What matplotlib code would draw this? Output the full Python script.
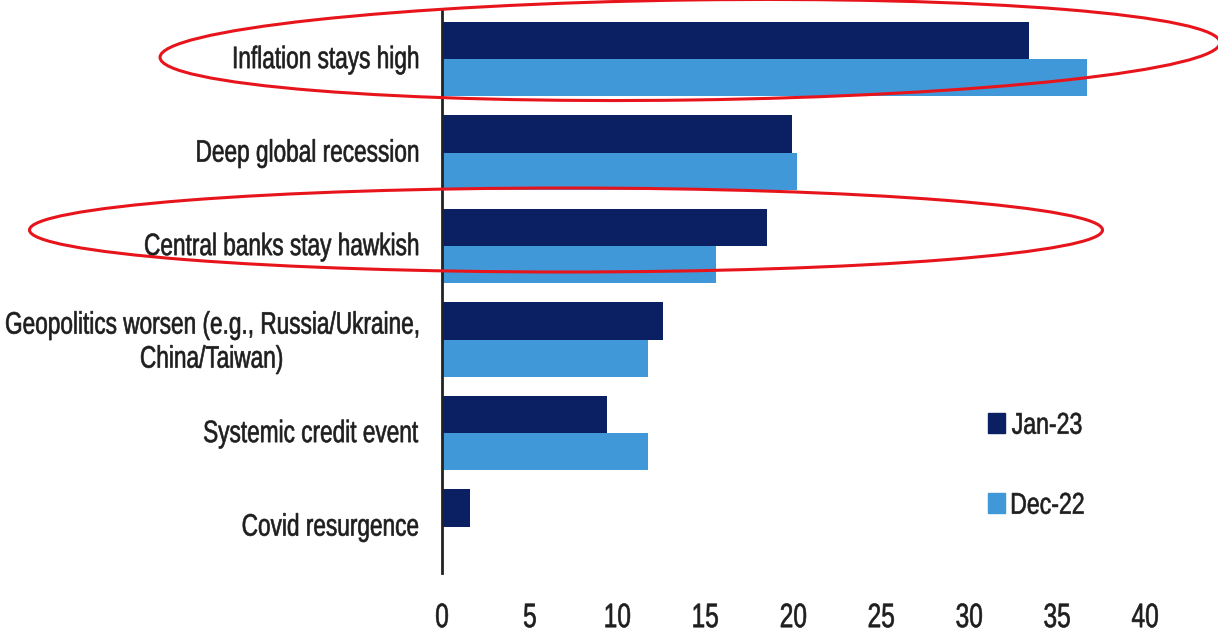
import matplotlib
matplotlib.use('Agg')
import matplotlib.pyplot as plt
from matplotlib.patches import Ellipse, Rectangle, PathPatch
from matplotlib.textpath import TextPath
from matplotlib.font_manager import FontProperties
from matplotlib.transforms import Affine2D
import numpy as np

# survey: biggest tail risk, % of respondents
risks = ['Inflation stays high',
         'Deep global recession',
         'Central banks stay hawkish',
         'Geopolitics worsen (e.g., Russia/Ukraine,\nChina/Taiwan)',
         'Systemic credit event',
         'Covid resurgence']
jan23 = [33.4, 19.9, 18.5, 12.6, 9.4, 1.6]
dec22 = [36.7, 20.2, 15.6, 11.7, 11.7, 0.0]
series_names = ['Jan-23', 'Dec-22']
xticks = list(range(0, 45, 5))

navy = '#0b1f63'
sky = '#4098d8'
ink = '#1e1e1e'
prop = FontProperties(family='Liberation Sans')


def narrow_text(fig, s, x, y, em, sx=0.73, ha='right'):
    # glyphs squeezed horizontally, x/y in display pixels, y = cap middle
    tp = TextPath((0, 0), s, size=em, prop=prop)
    ext = tp.get_extents()
    if ha == 'right':
        x0 = x - ext.x1 * sx
    elif ha == 'center':
        x0 = x - (ext.x0 + ext.x1) / 2 * sx
    else:
        x0 = x - ext.x0 * sx
    tr = Affine2D().scale(sx, 1).translate(x0, y - em * 0.716 / 2)
    fig.add_artist(PathPatch(tp, transform=tr, facecolor=ink,
                             edgecolor=ink, linewidth=0.45, clip_on=False))


fig = plt.figure(figsize=(12.18, 6.33), dpi=100)
ax = fig.add_axes([0.3629, 0.0948, 0.5771, 0.8894])

y = np.arange(len(risks))
h = 0.40
ax.barh(y - h/2, jan23, h, color=navy)
ax.barh(y + h/2, dec22, h, color=sky)

ax.set_xlim(0, 40)
ax.set_ylim(5.497, -0.524)
ax.set_xticks(xticks)
ax.set_yticks(y)
ax.set_xticklabels([])
ax.set_yticklabels([])
ax.tick_params(length=0)
for s in ['top', 'right', 'bottom']:
    ax.spines[s].set_visible(False)
ax.spines['left'].set_color('#222222')
ax.spines['left'].set_linewidth(2)

# category labels, right aligned a little left of the axis
for yi, lab in zip(y, risks):
    x_ax, y_mid = ax.transData.transform((0, yi))
    lines = lab.split('\n')
    if len(lines) == 1:
        narrow_text(fig, lab, x_ax - 24, y_mid + 2, 31)
    else:
        tp = TextPath((0, 0), lines[0], size=31, prop=prop)
        w = tp.get_extents().x1 * 0.73
        cx = x_ax - 24 - w / 2
        narrow_text(fig, lines[0], x_ax - 24, y_mid + 17, 31)
        narrow_text(fig, lines[1], cx, y_mid - 17, 31, ha='center')

# x tick labels
y_base = ax.transAxes.transform((0, 0))[1]
for v in xticks:
    xv = ax.transData.transform((v, 0))[0]
    narrow_text(fig, str(v), xv, y_base - 42, 34, sx=0.72, ha='center')

# legend
for (name, col, yb) in [(series_names[0], navy, 0.2487),
                        (series_names[1], sky, 0.1066)]:
    ax.add_patch(Rectangle((0.777, yb), 0.0242, 0.0355, color=col,
                           transform=ax.transAxes, clip_on=False))
    xt, yt = ax.transAxes.transform((0.811, yb + 0.0355 / 2))
    narrow_text(fig, name, xt, yt, 30, sx=0.77, ha='left')

# red rings around the two highlighted risks
for cx, cy, w, hh, ang in [(6.90, 5.83, 10.6, 1.00, 0.8),
                           (5.66, 4.03, 10.73, 0.84, 0.0)]:
    fig.add_artist(Ellipse((cx, cy), w, hh, angle=ang, fill=False,
                           edgecolor='#e8141c', linewidth=2.2,
                           transform=fig.dpi_scale_trans, clip_on=False))

fig.savefig('out.png', dpi=100)
